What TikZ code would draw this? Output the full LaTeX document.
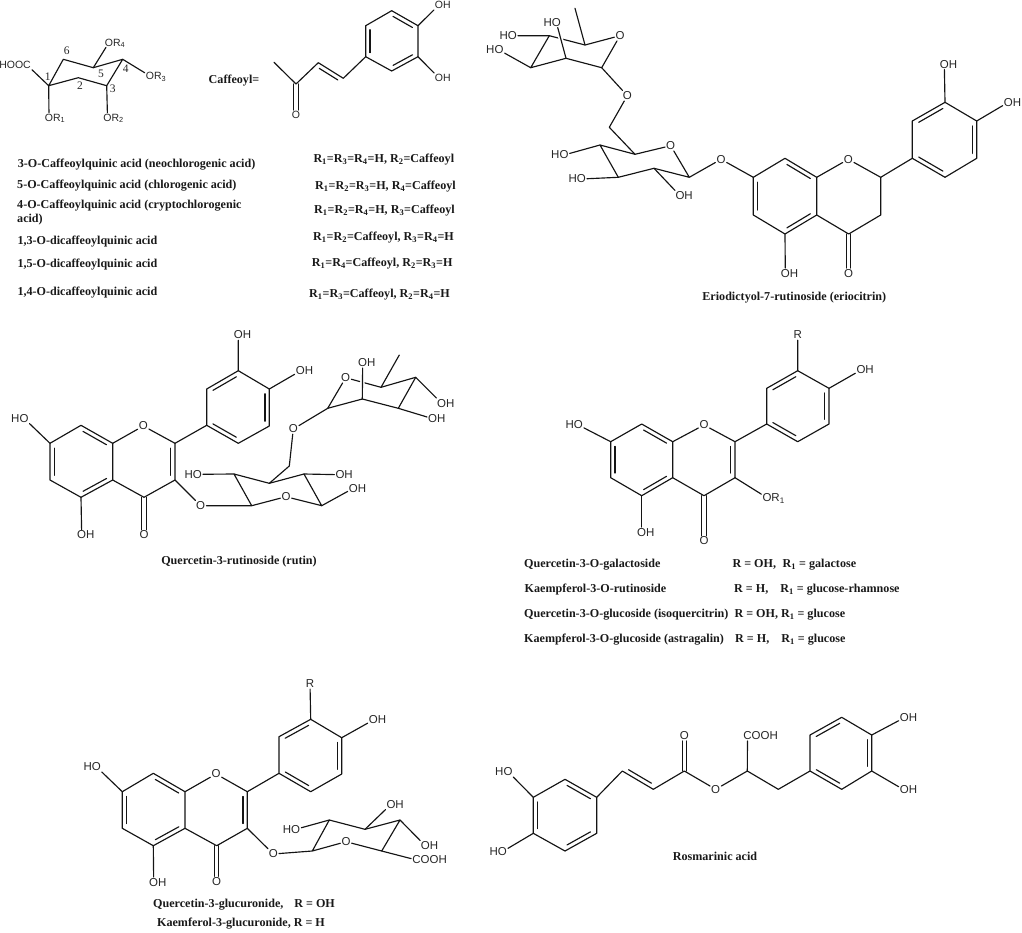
\documentclass[tikz,border=0pt]{standalone}
\usepackage{fontspec}
\setmainfont{Liberation Serif}
\newfontfamily\lsans{Liberation Sans}
\usetikzlibrary{calc}
\newcommand\lo[1]{\smash{\textsubscript{#1}}}
\tikzset{
  bond/.style={line width=1.15pt,line join=round,line cap=round,black!92},
  atom/.style={inner sep=1.2pt,outer sep=0pt,font=\lsans\fontsize{11.5}{12}\selectfont,text=black!85},
  small/.style={atom,font=\lsans\fontsize{10.5}{11}\selectfont},
  num/.style={inner sep=0pt,font=\fontsize{11.5}{12}\selectfont,text=black!85},
  ttl/.style={inner sep=0pt,font=\bfseries\fontsize{12.1}{13}\selectfont,text=black!90},
}
\newcommand\cc[3]{\coordinate (#1) at (#2,#3);}
\newcommand\inner[2]{\draw[bond] ($($(#1)!4.3pt!-90:(#2)$)!.13!($(#2)!4.3pt!90:(#1)$)$)--($($(#1)!4.3pt!-90:(#2)$)!.87!($(#2)!4.3pt!90:(#1)$)$);}
\newcommand\co[2]{\draw[bond,transform canvas={xshift=2.2pt}] (#1)--(#2);\draw[bond,transform canvas={xshift=-2.2pt}] (#1)--(#2);}
% O at the bond end, H hanging outside the box: centre given is that of the whole label
\newcommand\aOH[3]{\node[atom] (#1) at ({#2-4},#3) {O\rlap{H}};}
\newcommand\aHO[3]{\node[atom] (#1) at ({#2+4},#3) {\llap{H}O};}
\newcommand\aO[3]{\node[atom] (#1) at (#2,#3) {O};}
\newcommand\tl[4]{\node[ttl,anchor=base west] (#1) at (#2,{#3+3.5}) {#4};}
\newcommand\tc[4]{\node[ttl,anchor=base] (#1) at (#2,{#3+3.5}) {#4};}
\newcommand\flavskel[1]{
  \draw[bond] (#1c7)--(#1c8)--(#1c8a)--(#1c4a)--(#1c5)--(#1c6)--(#1c7);
  \inner{#1c8}{#1c8a}\inner{#1c4a}{#1c5}\inner{#1c6}{#1c7}
  \draw[bond] (#1c8a)--(#1o1)--(#1c2)--(#1c3)--(#1c4)--(#1c4a);
  \draw[bond] (#1c2)--(#1b1)--(#1b2)--(#1b3)--(#1b4)--(#1b5)--(#1b6)--(#1b1);
  \inner{#1b2}{#1b3}\inner{#1b4}{#1b5}\inner{#1b6}{#1b1}
  \co{#1c4}{#1oc}
  \draw[bond] (#1c7)--(#1oh7);
  \draw[bond] (#1c5)--(#1oh5);
}
\begin{document}
\begin{tikzpicture}[x=1pt,y=-1pt]
\path[use as bounding box] (0,0) rectangle (1022,932);

%% ---------- quinic acid
\cc{q1}{48.7}{85.7}\cc{q2}{78.3}{77.7}\cc{q3}{106.7}{85.7}\cc{q4}{122.7}{59.3}\cc{q5}{93.3}{67.7}\cc{q6}{63.3}{59.3}
\node[small] (qcooh) at (27,65) {\llap{HOO}C};
\node[small] (qr4) at (109,42.5) {O\rlap{R\lo{4}}};
\node[small] (qr3) at (150,76) {O\rlap{R\lo{3}}};
\node[small] (qr2) at (107.5,117.5) {O\rlap{R\lo{2}}};
\node[small] (qr1) at (49,117.5) {O\rlap{R\lo{1}}};
\draw[bond] (q1)--(q2)--(q3)--(q4)--(q5)--(q6)--(q1);
\draw[bond] (q1)--(qcooh) (q5)--(qr4) (q4)--(qr3) (q3)--(qr2) (q1)--(qr1);
\node[num] (n6) at (66.7,51) {6};
\node[num] (n1) at (47.7,77) {1};
\node[num] (n2) at (80,85.7) {2};
\node[num] (n5) at (101,74) {5};
\node[num] (n3) at (112.7,89) {3};
\node[num] (n4) at (125.7,69) {4};

%% ---------- caffeoyl
\node[ttl] (cafl) at (234,80.5) {Caffeoyl=};
\cc{k0}{274}{62.3}\cc{k1}{296}{84}\cc{k2}{318.3}{62.7}\cc{k3}{343.3}{78.3}
\cc{ka}{365.7}{56.7}\cc{kb}{365.7}{25.7}\cc{kc}{391.7}{10.7}\cc{kd}{418}{25.7}\cc{ke}{418}{56.7}\cc{kf}{391.7}{71}
\node[small] (koh1) at (439,5) {O\rlap{H}};
\node[small] (koh2) at (439,78) {O\rlap{H}};
\node[small] (ko) at (296,115) {O};
\draw[bond] (k0)--(k1)--(k2)--(k3)--(ka)--(kb)--(kc)--(kd)--(ke)--(kf)--(ka);
\inner{k2}{k3}\inner{ka}{kb}\inner{kc}{kd}\inner{ke}{kf}
\draw[bond] (kd)--(koh1) (ke)--(koh2);
\co{k1}{ko}

%% ---------- caffeoylquinic table
\tl{t1}{17.7}{164}{3-O-Caffeoylquinic acid (neochlorogenic acid)}
\tl{t2}{17}{185.3}{5-O-Caffeoylquinic acid (chlorogenic acid)}
\tl{t3}{17}{205.3}{4-O-Caffeoylquinic acid (cryptochlorogenic}
\tl{t3b}{17}{219}{acid)}
\tl{t4}{17.3}{240.7}{1,3-O-dicaffeoylquinic acid}
\tl{t5}{17.3}{263.7}{1,5-O-dicaffeoylquinic acid}
\tl{t6}{17.3}{291.7}{1,4-O-dicaffeoylquinic acid}
\tl{u1}{313.3}{159.3}{R\lo{1}=R\lo{3}=R\lo{4}=H, R\lo{2}=Caffeoyl}
\tl{u2}{315}{186}{R\lo{1}=R\lo{2}=R\lo{3}=H, R\lo{4}=Caffeoyl}
\tl{u3}{314}{210}{R\lo{1}=R\lo{2}=R\lo{4}=H, R\lo{3}=Caffeoyl}
\tl{u4}{313}{236.7}{R\lo{1}=R\lo{2}=Caffeoyl, R\lo{3}=R\lo{4}=H}
\tl{u5}{311.7}{263.3}{R\lo{1}=R\lo{4}=Caffeoyl, R\lo{2}=R\lo{3}=H}
\tl{u6}{309}{293.7}{R\lo{1}=R\lo{3}=Caffeoyl, R\lo{2}=R\lo{4}=H}

%% ---------- eriocitrin
\cc{ec7}{753.3}{177.3}\cc{ec8}{785}{158.3}\cc{ec8a}{816.7}{177.3}\cc{ec2}{880.7}{177.3}\cc{ec3}{880.7}{215}\cc{ec4}{848.7}{234}\cc{ec4a}{816.7}{215}\cc{ec5}{785}{234}\cc{ec6}{753.3}{215}
\cc{eb1}{912.3}{158.3}\cc{eb2}{912.3}{121}\cc{eb3}{945}{102.3}\cc{eb4}{976.7}{121}\cc{eb5}{976.7}{158.3}\cc{eb6}{945}{177.3}
\aO{eo1}{848.3}{159.3}
\aO{eoc}{848.7}{273.3}
\aOH{eoh5}{789.3}{273.3}
\aO{eoh7}{721}{159.3}
\aOH{eoh3}{948.3}{64.3}
\aOH{eoh4}{1012.3}{102.3}
\flavskel{e}
\draw[bond] (eb3)--(eoh3) (eb4)--(eoh4);
\cc{gc5}{635}{154.3}\cc{gc1}{689.3}{177.3}\cc{gc2}{654}{168.3}\cc{gc3}{618.3}{177.3}\cc{gc4}{600}{145}\cc{gch}{609.3}{127.3}
\aO{gor}{670.7}{145.7}
\aHO{gh4}{560}{155}
\aHO{gh3}{577.3}{179}
\aOH{gh2}{684}{195.7}
\aO{glk}{627.3}{95.7}
\cc{rc5}{585}{45}\cc{rc1}{601.7}{67.7}\cc{rc2}{566}{58.3}\cc{rc3}{530.7}{67.7}\cc{rc4}{549.3}{35.7}\cc{rme}{575}{8.3}
\aO{ror}{620}{35.7}
\aHO{rh2}{552.3}{22.3}
\aHO{rh4}{508.3}{35.7}
\aHO{rh3}{495}{50}
\draw[bond] (eoh7)--(gc1)--(gor)--(gc5)--(gc4)--(gc3)--(gc2)--(gc1);
\draw[bond] (gc2)--(gh2) (gc3)--(gh3) (gc4)--(gh4) (gc5)--(gch)--(glk)--(rc1);
\draw[bond] (rc1)--(ror)--(rc5)--(rc4);
\draw[bond] (rc5)--(rme) (rc4)--(rh4) (rc3)--(rh3);
\draw[bond,preaction={draw,white,line width=4.5pt}] (rc2)--(rh2);
\draw[bond] (rc1)--(rc2)--(rc3)--(rc4);
\tc{ecap}{794.3}{296.7}{Eriodictyol-7-rutinoside (eriocitrin)}

%% ---------- rutin
\cc{uc7}{50}{443.3}\cc{uc8}{81}{425.3}\cc{uc8a}{112.7}{443.3}\cc{uc2}{175}{443.3}\cc{uc3}{175}{480}\cc{uc4}{144}{497.3}\cc{uc4a}{112.7}{480}\cc{uc5}{81}{497.3}\cc{uc6}{50}{480}
\cc{ub1}{206.7}{425.3}\cc{ub2}{206.7}{389}\cc{ub3}{238.3}{370.7}\cc{ub4}{269.3}{389}\cc{ub5}{269.3}{426}\cc{ub6}{238.3}{443.3}
\aO{uo1}{143.3}{426}
\aO{uoc}{144}{535}
\aOH{uoh5}{85.7}{535}
\aHO{uoh7}{20}{418.3}
\aOH{uoh3}{242.3}{335}
\aOH{uoh4}{304.3}{371}
\flavskel{u}
\inner{uc2}{uc3}
\draw[bond] (ub3)--(uoh3) (ub4)--(uoh4);
\aO{uo3}{200.7}{505.7}
\cc{s1}{251.7}{505.7}\cc{s2}{234}{474}\cc{s3}{269.3}{483.3}\cc{s4}{304}{474}\cc{s5}{321.7}{505.7}\cc{sch}{289.3}{466}
\aO{sor}{286}{496.7}
\aHO{sh2}{193.3}{474.3}
\aOH{sh4}{344}{474.7}
\aOH{sh5}{357.3}{488.3}
\aO{slk}{293.3}{429}
\cc{v1}{327.7}{408.3}\cc{v5}{381}{387.3}\cc{v4}{415.7}{377.3}\cc{v3}{398.3}{408.3}\cc{v2}{362.3}{399}\cc{vme}{399.3}{355}
\aO{vor}{345.7}{377.7}
\aOH{vh2}{366.7}{362.7}
\aOH{vh4}{445.7}{403.3}
\aOH{vh3}{436.7}{418.7}
\draw[bond] (uc3)--(uo3)--(s1)--(s2)--(s3)--(s4)--(s5)--(sor)--(s1);
\draw[bond] (s2)--(sh2) (s4)--(sh4) (s5)--(sh5) (s3)--(sch)--(slk)--(v1);
\draw[bond] (v1)--(vor)--(v5)--(v4);
\draw[bond] (v5)--(vme) (v4)--(vh4) (v3)--(vh3);
\draw[bond,preaction={draw,white,line width=4.5pt}] (v2)--(vh2);
\draw[bond] (v1)--(v2)--(v3)--(v4);
\tc{ucap}{239}{561}{Quercetin-3-rutinoside (rutin)}

%% ---------- flavonol glycosides
\cc{fc7}{610.7}{441.7}\cc{fc8}{641.7}{424}\cc{fc8a}{672.7}{441.7}\cc{fc2}{735}{441.7}\cc{fc3}{735}{477.7}\cc{fc4}{704}{495.7}\cc{fc4a}{672.7}{477.7}\cc{fc5}{641.7}{495.7}\cc{fc6}{610.7}{477.7}
\cc{fb1}{766.7}{424}\cc{fb2}{766.7}{388.3}\cc{fb3}{797.7}{370.7}\cc{fb4}{829}{388.3}\cc{fb5}{829}{424}\cc{fb6}{797.7}{441.7}
\aO{fo1}{704}{425}
\aO{foc}{704}{541}
\aOH{foh5}{645.7}{532.3}
\aHO{foh7}{574.3}{425}
\node[atom] (fr) at (797.7,335) {R};
\aOH{foh4}{865}{370}
\node[atom] (for1) at (767,497.7) {O\rlap{R\lo{1}}};
\flavskel{f}
\inner{fc2}{fc3}
\draw[bond] (fb3)--(fr) (fb4)--(foh4) (fc3)--(for1);
\tl{f1}{524}{564}{Quercetin-3-O-galactoside}
\tl{f2}{524.5}{589}{Kaempferol-3-O-rutinoside}
\tl{f3}{524}{614}{Quercetin-3-O-glucoside (isoquercitrin)}
\tl{f4}{524}{639}{Kaempferol-3-O-glucoside (astragalin)}
\tl{g1}{732.3}{564}{R = OH,\hspace{.55em}R\lo{1} = galactose}
\tl{g2}{734}{589}{R = H,\hspace{1em}R\lo{1} = glucose-rhamnose}
\tl{g3}{734.3}{614}{R = OH, R\lo{1} = glucose}
\tl{g4}{735}{639}{R = H,\hspace{1em}R\lo{1} = glucose}

%% ---------- glucuronides
\cc{hc7}{122.3}{791.7}\cc{hc8}{153.3}{773.3}\cc{hc8a}{185}{791.7}\cc{hc2}{247.3}{791.7}\cc{hc3}{247.3}{828.3}\cc{hc4}{216.7}{845.7}\cc{hc4a}{185}{828.3}\cc{hc5}{153.3}{845.7}\cc{hc6}{122.3}{828.3}
\cc{hb1}{279}{773.3}\cc{hb2}{279}{736.7}\cc{hb3}{310.7}{719.3}\cc{hb4}{341.7}{737.7}\cc{hb5}{341.7}{774}\cc{hb6}{310.7}{791.7}
\aO{ho1}{216}{774}
\aO{hoc}{216.7}{881.7}
\aOH{hoh5}{157.7}{882.3}
\aHO{hoh7}{92.3}{766.7}
\node[atom] (hr) at (310,684) {R};
\aOH{hoh4}{377.3}{720}
\flavskel{h}
\inner{hc2}{hc3}
\draw[bond] (hb3)--(hr) (hb4)--(hoh4);
\aO{ho3}{273.3}{854}
\cc{j1}{312.3}{851}\cc{j2}{329.3}{820}\cc{j3}{365}{829.3}\cc{j4}{400}{820}\cc{j5}{381.7}{851}
\aO{jor}{346}{841.7}
\aHO{jh2}{291.7}{829.3}
\aOH{jh3}{395}{804.3}
\aOH{jh4}{429.3}{845.7}
\node[atom] (jcooh) at (416.5,860) {C\rlap{OOH}};
\draw[bond] (hc3)--(ho3)--(j1)--(j2)--(j3)--(j4)--(j5)--(jor)--(j1);
\draw[bond] (j2)--(jh2) (j3)--(jh3) (j4)--(jh4) (j5)--(jcooh);
\tc{hcap1}{244}{904}{Quercetin-3-glucuronide,\hspace{.9em}R = OH}
\tc{hcap2}{241}{922.7}{Kaemferol-3-glucuronide, R = H}

%% ---------- rosmarinic acid
\cc{ma}{596.7}{797.3}\cc{mb}{596.7}{833.3}\cc{mc}{565}{851}\cc{md}{533.3}{833.3}\cc{me}{533.3}{797.3}\cc{mf}{565}{779.3}
\cc{m1}{622.3}{771}\cc{m2}{653.3}{789.3}\cc{m3}{684.3}{771}\cc{m4}{747.3}{771}\cc{m5}{778.3}{789.3}
\cc{p1}{810}{771}\cc{p2}{810}{735}\cc{p3}{841.7}{717.3}\cc{p4}{871.7}{735}\cc{p5}{871.7}{771}\cc{p6}{841.7}{789.3}
\aHO{mh1}{504}{771.7}
\aHO{mh2}{498.3}{851.7}
\aO{mo1}{684.3}{735.7}
\aO{mo2}{715.7}{789.3}
\node[atom] (mco) at (747.5,735.7) {C\rlap{OOH}};
\aOH{moh1}{908.3}{717.7}
\aOH{moh2}{908.3}{790}
\draw[bond] (ma)--(mb)--(mc)--(md)--(me)--(mf)--(ma);
\inner{mf}{ma}\inner{mb}{mc}\inner{md}{me}
\draw[bond] (me)--(mh1) (md)--(mh2);
\draw[bond] (ma)--(m1)--(m2)--(m3)--(mo2)--(m4)--(m5)--(p1)--(p2)--(p3)--(p4)--(p5)--(p6)--(p1);
\inner{m2}{m1}\inner{p6}{p1}\inner{p2}{p3}\inner{p4}{p5}
\co{m3}{mo1}
\draw[bond] (m4)--(mco) (p4)--(moh1) (p5)--(moh2);
\tc{mcap}{715}{856.7}{Rosmarinic acid}
\end{tikzpicture}
\end{document}
